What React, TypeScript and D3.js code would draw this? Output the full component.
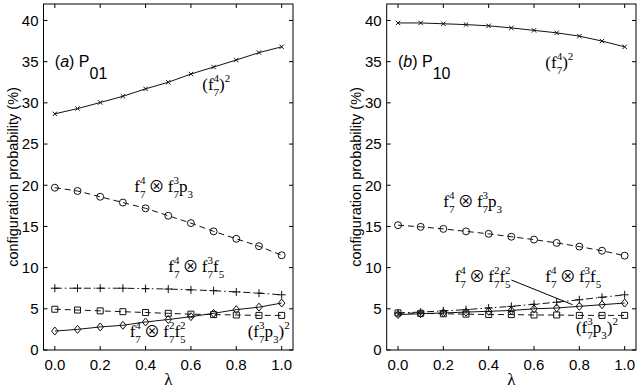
import * as d3 from "d3";

// lambda values shared by every curve
const lambda = [0, 0.1, 0.2, 0.3, 0.4, 0.5, 0.6, 0.7, 0.8, 0.9, 1.0];
const xTicks = [0, 0.2, 0.4, 0.6, 0.8, 1.0];
const yTicks = [0, 5, 10, 15, 20, 25, 30, 35, 40];

// panel (a) P01
const p01Cross = [28.67, 29.3, 30.04, 30.8, 31.7, 32.5, 33.5, 34.35, 35.2, 36.1, 36.8];
const p01Circle = [19.7, 19.3, 18.6, 17.9, 17.2, 16.3, 15.4, 14.4, 13.5, 12.6, 11.5];
const p01Plus = [7.5, 7.5, 7.5, 7.5, 7.45, 7.4, 7.3, 7.2, 7.05, 6.9, 6.7];
const p01Square = [4.95, 4.85, 4.75, 4.65, 4.55, 4.45, 4.35, 4.3, 4.25, 4.2, 4.2];
const p01Diamond = [2.3, 2.5, 2.8, 3.0, 3.4, 3.7, 4.05, 4.45, 4.9, 5.2, 5.7];

// panel (b) P10
const p10Cross = [39.7, 39.7, 39.6, 39.5, 39.35, 39.1, 38.8, 38.5, 38.1, 37.5, 36.8];
const p10Circle = [15.15, 14.95, 14.7, 14.4, 14.1, 13.75, 13.4, 13.0, 12.55, 12.05, 11.45];
const p10Plus = [4.5, 4.6, 4.75, 4.9, 5.1, 5.3, 5.55, 5.8, 6.1, 6.4, 6.7];
const p10Square = [4.5, 4.45, 4.4, 4.35, 4.3, 4.3, 4.25, 4.25, 4.2, 4.2, 4.2];
const p10Diamond = [4.3, 4.4, 4.5, 4.6, 4.7, 4.8, 5.0, 5.1, 5.3, 5.5, 5.7];

// label pieces: [base, superscript, subscript]
const OT = "\u2009\u2297\u2009";
const crossLabel = [["(", "", ""], ["f", "4", "7"], [")", "2", ""]];
const circleLabel = [["f", "4", "7"], [OT, "", ""], ["f", "3", "7"], ["p", "", "3"]];
const plusLabel = [["f", "4", "7"], [OT, "", ""], ["f", "3", "7"], ["f", "", "5"]];
const diamondLabel = [["f", "4", "7"], [OT, "", ""], ["f", "2", "7"], ["f", "2", "5"]];
const squareLabel = [["(", "", ""], ["f", "3", "7"], ["p", "", "3"], [")", "2", ""]];

const W = 642;
const H = 392;
const top = 4;
const bottom = 350;
const SANS = "'Liberation Sans', Arial, Helvetica, sans-serif";
const SERIF = "'Liberation Serif', 'Times New Roman', serif";

const marker = (type) => {
  switch (type) {
    case "x":
      return "M-2.2,-2.2L2.2,2.2M-2.2,2.2L2.2,-2.2";
    case "plus":
      return "M-4,0L4,0M0,-4L0,4";
    case "square":
      return "M-3,-3H3V3H-3Z";
    case "diamond":
      return "M0,-4L3.3,0L0,4L-3.3,0Z";
    default:
      return d3.symbol(d3.symbolCircle, 38)();
  }
};

// builds the tspans of a label; the baseline shift left by a script is
// carried over to the next base piece
const Label = ({ x, y, parts }) => {
  const digitW = 5.5;
  const spans = [];
  let back = 0;
  parts.forEach(([base, sup, sub], i) => {
    const isOp = base === OT;
    spans.push(
      <tspan
        key={`b${i}`}
        dy={back || undefined}
        fontSize={isOp ? 16 : 17}
        fontFamily={isOp ? "'Noto Sans CJK JP', 'DejaVu Serif', serif" : SERIF}
      >
        {base}
      </tspan>
    );
    back = 0;
    if (sup) {
      spans.push(
        <tspan key={`p${i}`} fontSize={11} dy={-8}>
          {sup}
        </tspan>
      );
      back = 8;
    }
    if (sub) {
      spans.push(
        <tspan key={`s${i}`} fontSize={11} dx={sup ? -digitW : undefined} dy={6 + back}>
          {sub}
        </tspan>
      );
      back = -6;
    }
  });
  return (
    <text x={x} y={y} fontFamily={SERIF} fill="#000" style={{ whiteSpace: "pre" }}>
      {spans}
    </text>
  );
};

const Panel = ({ left, right, letter, sub, series, labels, leader }) => {
  const x = d3.scaleLinear().domain([-0.05, 1.05]).range([left, right]);
  const y = d3.scaleLinear().domain([0, 42]).range([bottom, top]);
  const line = d3
    .line()
    .x((d) => x(d[0]))
    .y((d) => y(d[1]));

  return (
    <g>
      {series.map((s) => {
        const pts = lambda.map((l, i) => [l, s.values[i]]);
        return (
          <g key={s.marker}>
            <path d={line(pts)} fill="none" stroke="#111" strokeWidth={1} strokeDasharray={s.dash} />
            {pts.map((p, i) => (
              <path
                key={i}
                d={marker(s.marker)}
                transform={`translate(${x(p[0])},${y(p[1])})`}
                fill="none"
                stroke="#111"
                strokeWidth={1}
              />
            ))}
          </g>
        );
      })}

      {leader && (
        <line
          x1={x(leader[0][0])}
          y1={y(leader[0][1])}
          x2={x(leader[1][0])}
          y2={y(leader[1][1])}
          stroke="#000"
          strokeWidth={1}
        />
      )}

      {/* frame and ticks */}
      <rect x={left} y={top} width={right - left} height={bottom - top} fill="none" stroke="#000" strokeWidth={1} />
      {xTicks.map((t) => (
        <g key={`x${t}`}>
          <line x1={x(t)} x2={x(t)} y1={bottom} y2={bottom - 4} stroke="#000" />
          <line x1={x(t)} x2={x(t)} y1={top} y2={top + 4} stroke="#000" />
          <text x={x(t)} y={bottom + 20} textAnchor="middle" fontFamily={SANS} fontSize={15}>
            {t.toFixed(1)}
          </text>
        </g>
      ))}
      {yTicks.map((t) => (
        <g key={`y${t}`}>
          <line x1={left} x2={left + 4} y1={y(t)} y2={y(t)} stroke="#000" />
          <line x1={right} x2={right - 4} y1={y(t)} y2={y(t)} stroke="#000" />
          <text x={left - 5} y={y(t)} dy="0.36em" textAnchor="end" fontFamily={SANS} fontSize={15}>
            {t}
          </text>
        </g>
      ))}

      <text x={(x(0) + x(1)) / 2} y={bottom + 35} textAnchor="middle" fontFamily={SERIF} fontSize={17}>
        λ
      </text>
      <text
        transform={`translate(${left - 26},${(top + bottom) / 2}) rotate(-90)`}
        textAnchor="middle"
        fontFamily={SANS}
        fontSize={14.5}
      >
        configuration probability (%)
      </text>

      <text x={x(0)} y={y(34.3)} fontFamily={SANS} fontSize={16}>
        (<tspan fontStyle="italic">{letter}</tspan>) P
        <tspan dy={12}>{sub}</tspan>
      </text>

      {labels.map((l, i) => (
        <Label key={i} x={x(l.at[0])} y={y(l.at[1])} parts={l.parts} />
      ))}
    </g>
  );
};

export default function App() {
  const leftSeries = [
    { marker: "x", values: p01Cross, dash: null },
    { marker: "circle", values: p01Circle, dash: "6,4" },
    { marker: "plus", values: p01Plus, dash: "7,3,1.5,3" },
    { marker: "square", values: p01Square, dash: "6,4" },
    { marker: "diamond", values: p01Diamond, dash: null },
  ];
  const rightSeries = [
    { marker: "x", values: p10Cross, dash: null },
    { marker: "circle", values: p10Circle, dash: "6,4" },
    { marker: "plus", values: p10Plus, dash: "7,3,1.5,3" },
    { marker: "square", values: p10Square, dash: "6,4" },
    { marker: "diamond", values: p10Diamond, dash: null },
  ];
  const leftLabels = [
    { parts: crossLabel, at: [0.65, 31.6] },
    { parts: circleLabel, at: [0.35, 19.2] },
    { parts: plusLabel, at: [0.5, 9.5] },
    { parts: diamondLabel, at: [0.33, 1.6] },
    { parts: squareLabel, at: [0.85, 1.6] },
  ];
  const rightLabels = [
    { parts: crossLabel, at: [0.65, 34.2] },
    { parts: circleLabel, at: [0.2, 17.3] },
    { parts: diamondLabel, at: [0.25, 8.3] },
    { parts: plusLabel, at: [0.65, 8.3] },
    { parts: squareLabel, at: [0.785, 2.1] },
  ];

  return (
    <svg width={W} height={H} style={{ position: "absolute", left: 0, top: 0, background: "#fff" }}>
      <Panel left={43.5} right={293} letter="a" sub="01" series={leftSeries} labels={leftLabels} />
      <Panel
        left={386.7}
        right={636}
        letter="b"
        sub="10"
        series={rightSeries}
        labels={rightLabels}
        leader={[
          [0.5, 8.5],
          [0.77, 5.5],
        ]}
      />
    </svg>
  );
}
